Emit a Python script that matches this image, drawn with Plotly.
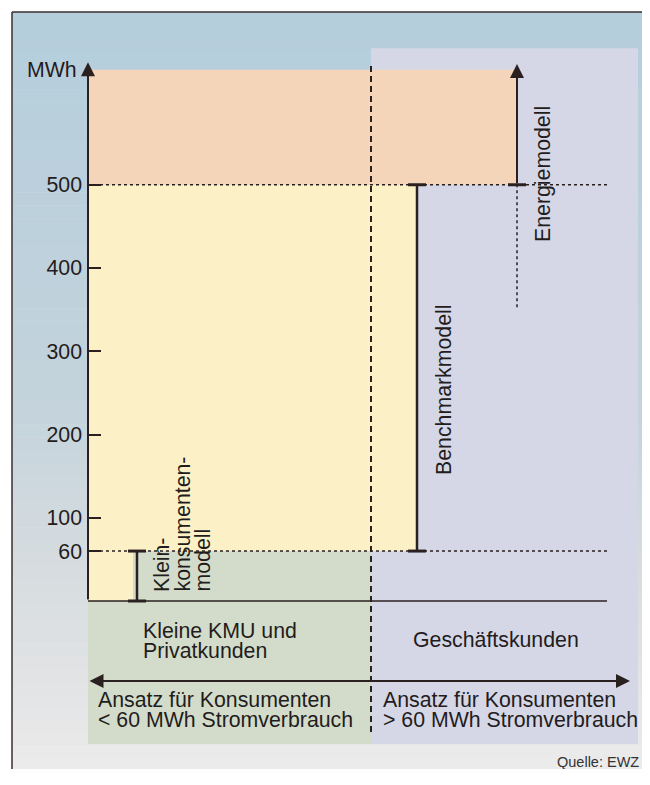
import plotly.graph_objects as go

# ---------------- data ----------------
tick_values = [60, 100, 200, 300, 400, 500]
tick_labels = ["60", "100", "200", "300", "400", "500"]
thresholds = [60, 500]            # MWh limits between the models
axis_top = 647                    # top of the MWh axis (arrow tip)
energy_top = 645                  # Energiemodell arrow tip
energy_zone_top = 638             # upper edge of the Energiemodell zone
business_top = 664                # upper edge of the Geschäftskunden zone
energy_dotted_low = 353           # lower end of the dotted Energiemodell guide
models = ["Klein-", "konsumenten-", "modell"]
benchmark_label = "Benchmarkmodell"
energy_label = "Energiemodell"
segment_left = ["Kleine KMU und", "Privatkunden"]
segment_right = "Geschäftskunden"
approach_left = ["Ansatz für Konsumenten", "< 60 MWh Stromverbrauch"]
approach_right = ["Ansatz für Konsumenten", "> 60 MWh Stromverbrauch"]
source = "Quelle: EWZ"

# ---------------- style / layout ----------------
OFF = 8                       # browser body margin
W_REF, H_REF = 650, 785
W, H = W_REF - 2 * OFF, H_REF - 2 * OFF - 8     # keep the page free of scrollbars
PX0 = 601.0          # pixel row of 0 MWh
PXU = 0.8325         # pixels per MWh
PAGE_BOTTOM = OFF + H
PAGE_RIGHT = OFF + W


def v(py):
    """pixel row (page) -> MWh (layout helper for label placement)"""
    return (PX0 - py) / PXU


def pxp(x):
    return (x - OFF) / W


def pyp(py):
    return 1 - (py - OFF) / H


LINE = "#2b2020"
TEXT = "#231c1c"
FONT = "Liberation Sans, Arial, sans-serif"
FS = 21.3
BLUE_STOPS = [(0.0, (181, 206, 220)), (0.5, (195, 211, 220)),
              (0.75, (216, 221, 224)), (0.95, (232, 232, 232)), (1.0, (237, 237, 237))]
LAVENDER = "#d5d7e6"
GREEN = "#d3dcca"
PEACH = "#f4d5b9"
YELLOW = "#fcf0c6"

X_AXIS = 88
X_SPLIT = 371
X_BENCH = 417
X_ENERGY = 517
X_KLEIN = 137
X_RIGHT_END = 607
X_LAV_RIGHT = 638
X_SMALL_YELLOW = 133
Y_LOW_EDGE = v(744)
Y_SPLIT_LOW = v(732)
Y_ARROW = v(681)

fig = go.Figure()
fig.add_trace(go.Scatter(x=[OFF], y=[0], mode="markers", marker=dict(opacity=0), showlegend=False,
                         hoverinfo="skip"))


def lerp_color(t):
    for (t0, c0), (t1, c1) in zip(BLUE_STOPS[:-1], BLUE_STOPS[1:]):
        if t0 <= t <= t1:
            f = (t - t0) / (t1 - t0) if t1 > t0 else 0
            return "rgb(%d,%d,%d)" % tuple(round(a + (b - a) * f) for a, b in zip(c0, c1))
    return "rgb(%d,%d,%d)" % BLUE_STOPS[-1][1]


# background gradient (paper coordinates)
top_py, n = 12, 60
for i in range(n):
    p0 = top_py + (H_REF - top_py) * i / n
    p1 = top_py + (H_REF - top_py) * (i + 1) / n + 0.5
    fig.add_shape(type="rect", xref="paper", yref="paper", x0=pxp(12), x1=1,
                  y0=max(pyp(p1), 0), y1=pyp(p0), line_width=0,
                  fillcolor=lerp_color(i / (n - 1)), layer="below")
# frame
fig.add_shape(type="line", xref="paper", yref="paper", x0=pxp(12), x1=1, y0=pyp(12), y1=pyp(12),
              line=dict(color="#3a2e2e", width=1.5), layer="below")
fig.add_shape(type="line", xref="paper", yref="paper", x0=pxp(12), x1=pxp(12), y0=0, y1=pyp(12),
              line=dict(color="#3a2e2e", width=1.5), layer="below")

# zones
lo, hi = thresholds
fig.add_shape(type="rect", x0=X_SPLIT, x1=X_LAV_RIGHT, y0=Y_LOW_EDGE, y1=business_top,
              fillcolor=LAVENDER, line_width=0, layer="below")
fig.add_shape(type="rect", x0=X_AXIS, x1=X_SPLIT, y0=Y_LOW_EDGE, y1=lo,
              fillcolor=GREEN, line_width=0, layer="below")
fig.add_shape(type="rect", x0=X_AXIS, x1=X_ENERGY, y0=hi, y1=energy_zone_top,
              fillcolor=PEACH, line_width=0, layer="below")
fig.add_shape(type="rect", x0=X_AXIS, x1=X_BENCH, y0=lo, y1=hi,
              fillcolor=YELLOW, line_width=0, layer="below")
fig.add_shape(type="rect", x0=X_AXIS, x1=X_SMALL_YELLOW, y0=0, y1=lo,
              fillcolor=YELLOW, line_width=0, layer="below")

# dotted threshold lines
for t in thresholds:
    fig.add_shape(type="line", x0=X_AXIS + 12, x1=X_RIGHT_END, y0=t, y1=t,
                  line=dict(color=LINE, width=1.5, dash="dot"))
# baseline (0 MWh)
fig.add_shape(type="line", x0=X_AXIS, x1=X_RIGHT_END, y0=0, y1=0, line=dict(color=LINE, width=1.6))
# split line
fig.add_shape(type="line", x0=X_SPLIT, x1=X_SPLIT, y0=Y_SPLIT_LOW, y1=axis_top,
              line=dict(color=LINE, width=2, dash="6px,4px"))


# brackets
def bracket(x, y0, y1):
    fig.add_shape(type="line", x0=x, x1=x, y0=y0, y1=y1, line=dict(color=LINE, width=2.5))
    for yy in (y0, y1):
        fig.add_shape(type="line", x0=x - 9, x1=x + 9, y0=yy, y1=yy, line=dict(color=LINE, width=3))


bracket(X_KLEIN, 0, lo)
bracket(X_BENCH, lo, hi)
fig.add_shape(type="line", x0=X_ENERGY - 9, x1=X_ENERGY + 9, y0=hi, y1=hi, line=dict(color=LINE, width=3))
fig.add_shape(type="line", x0=X_ENERGY, x1=X_ENERGY, y0=energy_dotted_low, y1=hi,
              line=dict(color=LINE, width=1.5, dash="dot"))


def arrow(x0, y0, x1, y1, both=False):
    fig.add_annotation(x=x1, y=y1, ax=x0, ay=y0, xref="x", yref="y", axref="x", ayref="y",
                       text="", showarrow=True, arrowhead=2, arrowsize=1.4, arrowwidth=2,
                       arrowcolor=LINE, arrowside="end+start" if both else "end")


arrow(X_AXIS, 0, X_AXIS, axis_top)
arrow(X_ENERGY, hi, X_ENERGY, energy_top)
arrow(X_AXIS, Y_ARROW, 630, Y_ARROW, both=True)


def label(text, x, y, xanchor="left", size=FS, angle=0, yanchor="middle", xref="x", yref="y", color=TEXT):
    fig.add_annotation(x=x, y=y, text=text, showarrow=False, xanchor=xanchor, yanchor=yanchor,
                       xref=xref, yref=yref, textangle=angle,
                       font=dict(family=FONT, size=size, color=color))


label("MWh", 79, v(70), xanchor="right")
for i, t in enumerate(models):
    label(t, 162 + 20 * i, v(594), xanchor="center", yanchor="bottom", angle=-90)
label(benchmark_label, 444, v(390), xanchor="center", angle=-90)
label(energy_label, 543, v(174), xanchor="center", angle=-90)
label(segment_left[0], 141, v(631))
label(segment_left[1], 141, v(651))
label(segment_right, 411, v(640))
label(approach_left[0], 96, v(700))
label(approach_left[1], 96, v(720))
label(approach_right[0], 381, v(700))
label(approach_right[1], 381, v(720))
label(source, PAGE_RIGHT - 1, pyp(752), xanchor="right", yanchor="top", size=14.5,
      xref="x", yref="paper", color="#333333")

fig.update_layout(
    width=W, height=H, margin=dict(l=0, r=0, t=0, b=0),
    paper_bgcolor="white", plot_bgcolor="rgba(0,0,0,0)", showlegend=False,
    xaxis=dict(range=[OFF, PAGE_RIGHT], visible=False, domain=[0, 1], fixedrange=True),
    yaxis=dict(range=[v(PAGE_BOTTOM), v(OFF)], tickvals=tick_values, ticktext=tick_labels,
               ticks="inside", ticklen=12, tickwidth=2, tickcolor=LINE,
               showgrid=False, zeroline=False, showline=False,
               anchor="free", position=pxp(X_AXIS), side="left",
               tickfont=dict(family=FONT, size=FS, color=TEXT), ticklabelstandoff=6,
               fixedrange=True),
)
fig.write_html("out.html")
